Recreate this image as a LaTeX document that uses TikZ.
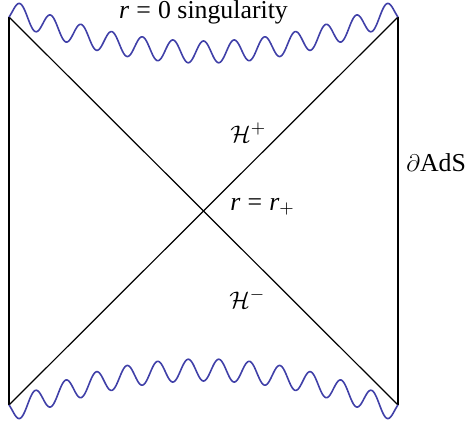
\documentclass[tikz,border=0pt]{standalone}
\usepackage{fontspec}
\setmainfont{Liberation Serif}
\definecolor{wavecol}{RGB}{64,64,168}
\begin{document}
\begin{tikzpicture}[x=0.5pt,y=-0.5pt,
  edge/.style={line width=0.6pt,black},
  wave/.style={line width=0.8pt,wavecol,line join=round},
  lbl/.style={inner sep=0pt,anchor=base west,font=\fontsize{12.9}{15}\selectfont}]
\useasboundingbox (0,0) rectangle (467,423);
\coordinate (TL) at (9,17);
\coordinate (TR) at (398,17);
\coordinate (BL) at (9,405);
\coordinate (BR) at (398,405);
\draw[edge] (TL) -- (BL);
\draw[edge] (TR) -- (BR);
\draw[edge] (TL) -- (BR);
\draw[edge] (TR) -- (BL);
\draw[wave] plot[domain=9:398,samples=500] (\x,{10+42*(1-((\x-203.5)/194.5)^2)-11*cos(11.7724*(\x-203.5))});
\draw[wave] plot[domain=9:398,samples=500] (\x,{422-(10+42*(1-((\x-203.5)/194.5)^2)-11*cos(11.7724*(\x-203.5)))});
\node[lbl,anchor=base] (sing) at (203.5,18.5) {\itshape r\upshape\hspace{0.28em}=\hspace{0.28em}0 singularity};
\node[lbl] (hp) at (230,142) {$\mathcal{H}^+$};
\node[lbl] (rp) at (230,210) {\itshape r\upshape\hspace{0.28em}=\hspace{0.28em}\itshape r\upshape$_+$};
\node[lbl] (ads) at (406,171) {$\partial$AdS};
\node[lbl] (hm) at (229,308) {$\mathcal{H}^-$};
\end{tikzpicture}
\end{document}
